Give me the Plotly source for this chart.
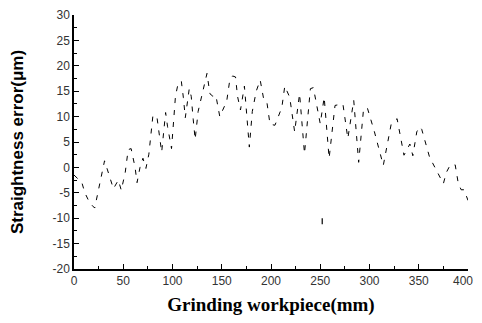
import plotly.graph_objects as go

x_mm = [0, 8, 11, 16, 21, 26, 31, 34, 40, 45, 48, 52, 55, 58, 62, 64, 67, 70, 73, 76,
        80, 84, 86, 89, 93, 95, 99, 101, 103, 106, 109, 111, 113, 117, 119, 121, 123, 126,
        130, 135, 138, 141, 144, 148, 155, 158, 161, 164, 166, 169, 173, 178, 181, 185,
        189, 193, 196, 199, 204, 211, 214, 219, 224, 229, 234, 240, 243, 250, 254, 259,
        265, 273, 278, 284, 289, 294, 298, 305, 314, 322, 328, 335, 341, 344, 348, 351,
        353, 361, 375, 378, 382, 387, 390, 393, 396, 400]
err_um = [-1.5, -3, -5, -7, -8, -3, 1.3, -0.5, -4.2, -2.5, -4.5, -1, 3.5, 3.7, 0, -3, 0, 1.8, -0.2, 2.6,
          10, 10.2, 7, 3, 10.8, 8, 3.7, 9, 14, 16.8, 16.9, 13.8, 9.8, 15.5, 14, 9.5, 5.5, 11,
          14.5, 18.5, 14.5, 14, 14.2, 10, 13, 17, 18, 17.8, 14, 11.3, 16, 4, 11, 15,
          17.2, 13, 12.6, 8.5, 8.3, 11.8, 16, 13.8, 7, 14.5, 2.7, 15.5, 15.7, 8.6, 13.8, 1.8,
          12.2, 12.5, 5.7, 13.2, 1, 11.6, 11.6, 7, 0.4, 8.5, 9.6, 2.4, 4.6, 2.3, 7, 8,
          7.5, 2, -3.2, -1, 0.5, 0.5, -3, -4.4, -4.4, -6.5]

outlier_x = [252, 252]
outlier_y = [-10, -11.2]

x_ticks = [0, 50, 100, 150, 200, 250, 300, 350, 400]
y_ticks = [-20, -15, -10, -5, 0, 5, 10, 15, 20, 25, 30]

# last x label nudged left (padding) so it stays inside the visible window
x_ticktext = [str(v) for v in x_ticks]
x_ticktext[-1] = x_ticktext[-1] + "\u00a0\u00a0\u00a0"

fig = go.Figure()
fig.add_trace(go.Scatter(x=x_mm, y=err_um, mode="lines",
                         line=dict(color="black", width=1, dash="5px,7px"),
                         showlegend=False))
fig.add_trace(go.Scatter(x=outlier_x, y=outlier_y, mode="lines",
                         line=dict(color="black", width=1.2),
                         showlegend=False))

tick_font = dict(family="Liberation Sans, Arial", size=12, color="#333333")

fig.update_layout(
    width=474, height=315,
    margin=dict(l=66, r=14, t=7, b=54),
    paper_bgcolor="white", plot_bgcolor="white",
    xaxis=dict(range=[0, 400], tickvals=x_ticks, ticktext=x_ticktext,
               automargin=False, ticklabeloverflow="allow",
               showgrid=False, zeroline=False, showline=True, linecolor="black", linewidth=1.5,
               ticks="inside", ticklen=5, tickcolor="black",
               minor=dict(ticks="inside", ticklen=3, dtick=25, tick0=0, tickcolor="black"),
               tickfont=tick_font,
               title=dict(text="Grinding workpiece(mm)", standoff=11,
                          font=dict(family="Liberation Serif, Times New Roman", size=19, color="black", weight="bold"))),
    yaxis=dict(range=[-20, 30], tickvals=y_ticks, ticktext=[str(v) for v in y_ticks],
               automargin=False,
               showgrid=False, zeroline=False, showline=True, linecolor="black", linewidth=1.5,
               ticks="inside", ticklen=5, tickcolor="black",
               minor=dict(ticks="inside", ticklen=3, dtick=2.5, tick0=0, tickcolor="black"),
               tickfont=tick_font,
               title=dict(text="Straightness error(μm)", standoff=26,
                          font=dict(family="Liberation Sans, Arial", size=17, color="black", weight="bold"))),
)

fig.write_html("out.html")
